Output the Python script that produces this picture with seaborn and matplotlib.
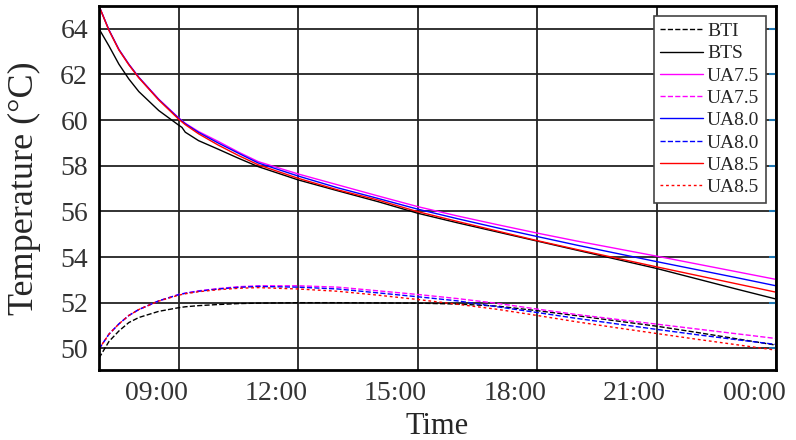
import matplotlib
matplotlib.use("Agg")
import matplotlib.pyplot as plt
import matplotlib.dates as mdates
import matplotlib.transforms as mtransforms
import numpy as np
import pandas as pd
import seaborn as sns

# Sample times (last one is midnight of the following day)
times = ["07:00", "07:15", "07:30", "07:45", "08:00", "08:30", "09:00", "09:05",
         "09:10", "09:30", "10:00", "10:30", "11:00", "12:00", "13:00", "14:00",
         "15:00", "16:00", "17:00", "18:00", "19:00", "20:00", "21:00", "22:00",
         "23:00", "00:00"]

# Measured temperatures (°C)
bti = [49.57, 50.30, 50.76, 51.13, 51.35, 51.62, 51.78, 51.80, 51.82, 51.87, 51.92, 51.96,
       51.98, 52.00, 52.00, 51.99, 51.98, 51.94, 51.85, 51.65, 51.43, 51.20, 50.97, 50.70,
       50.42, 50.14]
bts = [64.00, 63.25, 62.45, 61.80, 61.25, 60.42, 59.78, 59.68, 59.47, 59.10, 58.72, 58.33,
       57.96, 57.38, 56.90, 56.43, 55.92, 55.50, 55.10, 54.70, 54.30, 53.90, 53.50, 53.05,
       52.60, 52.16]

# Simulated temperatures, solid = upper layer, dashed = lower layer
ua75_top = [65.00, 63.95, 63.10, 62.45, 61.88, 60.92, 60.10, 59.98, 59.86, 59.50, 59.06, 58.60,
            58.18, 57.64, 57.16, 56.68, 56.21, 55.80, 55.42, 55.05, 54.70, 54.37, 54.04, 53.70,
            53.36, 53.02]
ua75_bot = [49.97, 50.62, 51.07, 51.44, 51.70, 52.08, 52.36, 52.39, 52.42, 52.52, 52.62, 52.70,
            52.74, 52.74, 52.68, 52.52, 52.36, 52.18, 51.97, 51.72, 51.48, 51.27, 51.06, 50.85,
            50.64, 50.43]
ua80_top = [65.00, 63.95, 63.09, 62.44, 61.87, 60.90, 60.08, 59.96, 59.84, 59.46, 58.99, 58.55,
            58.12, 57.55, 57.03, 56.57, 56.10, 55.68, 55.28, 54.90, 54.52, 54.16, 53.80, 53.45,
            53.10, 52.74]
ua80_bot = [49.97, 50.62, 51.07, 51.44, 51.70, 52.08, 52.35, 52.38, 52.41, 52.50, 52.60, 52.67,
            52.71, 52.68, 52.60, 52.43, 52.26, 52.08, 51.82, 51.57, 51.31, 51.07, 50.83, 50.60,
            50.38, 50.17]
ua85_top = [65.00, 63.93, 63.07, 62.42, 61.85, 60.88, 60.04, 59.92, 59.80, 59.40, 58.90, 58.45,
            58.04, 57.45, 56.94, 56.50, 55.99, 55.56, 55.14, 54.72, 54.33, 53.95, 53.57, 53.20,
            52.83, 52.46]
ua85_bot = [49.97, 50.62, 51.07, 51.44, 51.70, 52.07, 52.33, 52.36, 52.39, 52.48, 52.57, 52.63,
            52.66, 52.60, 52.50, 52.33, 52.14, 51.93, 51.71, 51.44, 51.16, 50.90, 50.65, 50.40,
            50.16, 49.92]

series = [
    ("BTI", bti, "black", "--"),
    ("BTS", bts, "black", "-"),
    ("UA7.5", ua75_top, "#ff00ff", "-"),
    ("UA7.5", ua75_bot, "#ff00ff", "--"),
    ("UA8.0", ua80_top, "#0000ff", "-"),
    ("UA8.0", ua80_bot, "#0000ff", "--"),
    ("UA8.5", ua85_top, "#ff0000", "-"),
    ("UA8.5", ua85_bot, "#ff0000", (0, (2, 2))),
]

stamps = []
for t in times:
    ts = pd.Timestamp(f"2024-01-01 {t}")
    if stamps and ts < stamps[-1]:
        ts += pd.Timedelta(days=1)
    stamps.append(ts)
stamps = pd.to_datetime(stamps)

sns.set_style("white")
plt.rcParams["font.family"] = ["Liberation Serif", "DejaVu Serif"]

fig = plt.figure(figsize=(7.96, 4.40), dpi=100)
ax = fig.add_axes([99 / 796, 1 - 370 / 440, 677 / 796, 364 / 440])

for name, vals, color, ls in series:
    sns.lineplot(x=stamps, y=vals, ax=ax, color=color, linestyle=ls,
                 linewidth=1.0, label=name)

ax.set_xlim(stamps[0], stamps[-1])
ax.set_ylim(49.05, 65.0)
ax.set_yticks([50, 52, 54, 56, 58, 60, 62, 64])
ax.xaxis.set_major_locator(mdates.HourLocator(byhour=range(0, 24, 3)))
ax.xaxis.set_major_formatter(mdates.DateFormatter("%H:%M"))

ax.grid(True, color="#222222", linewidth=1.3)
ax.set_axisbelow(True)
for side in ["left", "right", "top", "bottom"]:
    ax.spines[side].set_visible(True)
    ax.spines[side].set_color("black")
    ax.spines[side].set_linewidth(2.0)

ax.tick_params(axis="y", direction="in", length=5, width=1.5, color="#1f77b4",
               right=True, labelsize=20, labelcolor="#333333", pad=8)
ax.tick_params(axis="x", length=0, labelsize=20, labelcolor="#333333", pad=8)

# tick labels sit a little to the left of their grid lines
shift = mtransforms.ScaledTranslation(-0.22, 0, fig.dpi_scale_trans)
for lbl in ax.get_xticklabels():
    lbl.set_transform(lbl.get_transform() + shift)

ax.set_xlabel("Time", fontsize=22, labelpad=4)
ax.set_ylabel("Temperature (°C)", fontsize=26, labelpad=14)

leg = ax.legend(loc="upper right", fontsize=14, frameon=True, fancybox=False,
                edgecolor="#444444", framealpha=1, handlelength=2.2,
                handletextpad=0.2, labelspacing=0.24, borderpad=0.35,
                borderaxespad=0.5)
leg.get_frame().set_linewidth(1.2)

fig.savefig("out.png", dpi=100)
